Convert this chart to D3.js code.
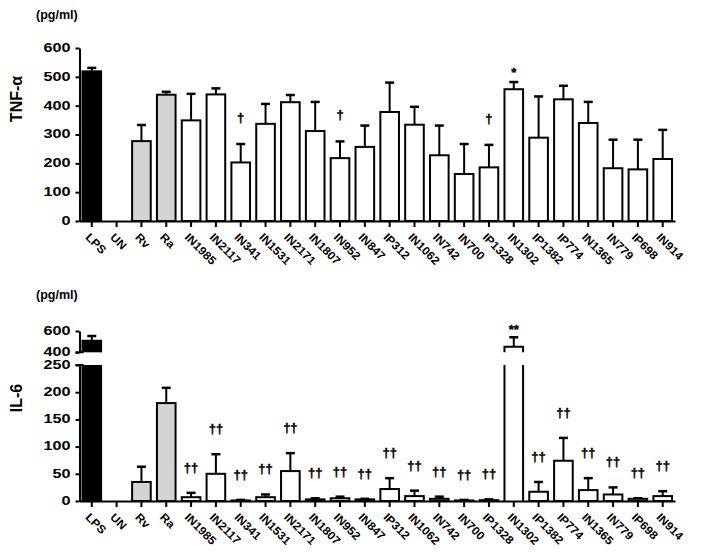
<!DOCTYPE html>
<html>
<head>
<meta charset="utf-8">
<script src="https://cdn.jsdelivr.net/npm/d3@7"></script>
<style>
    body { margin: 0; background: #fff; }
    text { font-family: "Liberation Sans", Arial, sans-serif; fill: #000; }
    .marks { opacity: 0.999; }
</style>
</head>
<body>
<script>
//categories along the x axis
var categories = ["LPS", "UN", "Rv", "Ra", "IN1985", "IN2117", "IN341", "IN1531", "IN2171", "IN1807",
    "IN952", "IN847", "IP312", "IN1062", "IN742", "IN700", "IP1328", "IN1302", "IP1382", "IP774",
    "IN1365", "IN779", "IP698", "IN914"];

//TNF-a means and error (upper SD)
var tnfMean = [519, 0, 277, 438, 349, 439, 203, 337, 412, 312, 218, 257, 378, 334, 228, 163, 186, 457, 289, 422, 340, 183, 179, 215];
var tnfErr = [12, 0, 56, 10, 92, 21, 64, 69, 25, 101, 58, 74, 102, 62, 103, 104, 78, 25, 143, 47, 73, 99, 103, 101];
var tnfMarks = ["", "", "", "", "", "", "\u2020", "", "", "", "\u2020", "", "", "", "", "", "\u2020", "*", "", "", "", "", "", ""];

//IL-6 means and error (upper SD)
var il6Mean = [509, 0, 35, 180, 7, 50, 1, 7, 55, 3, 5, 3, 22, 9, 4, 1, 1.5, 453, 17, 74, 20, 12, 4, 9];
var il6Err = [44, 0, 28, 28, 8, 36, 1, 5, 33, 2, 3, 1, 20, 10, 4, 1, 1.5, 88, 18, 42, 22, 13, 1, 9];
var il6Marks = ["", "", "", "", "\u2020\u2020", "\u2020\u2020", "\u2020\u2020", "\u2020\u2020", "\u2020\u2020", "\u2020\u2020",
    "\u2020\u2020", "\u2020\u2020", "\u2020\u2020", "\u2020\u2020", "\u2020\u2020", "\u2020\u2020", "\u2020\u2020", "**",
    "\u2020\u2020", "\u2020\u2020", "\u2020\u2020", "\u2020\u2020", "\u2020\u2020", "\u2020\u2020"];

//tick labels
var tnfTicks = [0, 100, 200, 300, 400, 500, 600];
var il6LowTicks = [0, 50, 100, 150, 200, 250];
var il6HighTicks = [400, 600];

//fill colour per category
var barFill = function(c){
    if (c == "LPS") return "#000";
    if (c == "Rv" || c == "Ra") return "#d4d4d4";
    return "#fff";
};

var width = 710,
    height = 555,
    axisX = 79.5,
    axisEnd = 675;

var svg = d3.select("body")
    .append("svg")
    .attr("width", width)
    .attr("height", height);

var x = d3.scaleBand()
    .domain(categories)
    .range([axisX, axisEnd])
    .paddingInner(0.25)
    .paddingOuter(0.12);

var bw = x.bandwidth();

//widen glyphs a little, the source font is broader than Arial
function stretch(sel, k){
    sel.each(function(){
        var w = this.getComputedTextLength();
        d3.select(this).attr("textLength", w * k).attr("lengthAdjust", "spacingAndGlyphs");
    });
}

function styleYAxis(g){
    g.select(".domain").attr("stroke-width", 2);
    g.selectAll(".tick line").attr("stroke-width", 2);
    g.selectAll(".tick text")
        .attr("x", -9)
        .attr("dy", "0.28em")
        .style("font-size", "12px")
        .style("font-weight", "bold")
        .attr("fill", "#000");
    stretch(g.selectAll(".tick text"), 1.35);
}

function drawXAxis(y0){
    var g = svg.append("g")
        .attr("transform", "translate(0," + y0 + ")")
        .call(d3.axisBottom(x).tickSize(6).tickSizeOuter(0));
    g.select(".domain").attr("stroke-width", 2);
    g.selectAll(".tick line").attr("stroke-width", 2);
    g.selectAll(".tick text")
        .attr("x", 0).attr("y", 0).attr("dy", 0)
        .attr("text-anchor", "start")
        .attr("transform", "translate(-7,17) rotate(45)")
        .style("font-size", "11.5px")
        .style("font-weight", "bold");
    stretch(g.selectAll(".tick text"), 1.05);
}

function errBar(g, cx, y1, y2){
    g.append("line")
        .attr("x1", cx).attr("x2", cx)
        .attr("y1", y1).attr("y2", y2)
        .attr("stroke", "#000").attr("stroke-width", 2);
    g.append("line")
        .attr("x1", cx - 4.5).attr("x2", cx + 4.5)
        .attr("y1", y2).attr("y2", y2)
        .attr("stroke", "#000").attr("stroke-width", 2.5);
}

//significance marks (daggers / asterisks)
function mark(g, cx, y, s){
    g.append("text")
        .attr("class", "marks")
        .attr("x", cx).attr("y", y)
        .attr("text-anchor", "middle")
        .attr("stroke", "#000").attr("stroke-width", 0.4)
        .style("font-size", "13px")
        .style("font-weight", "bold")
        .text(s);
}

function unitLabels(yTxt, name, yName){
    svg.append("text")
        .attr("x", 36).attr("y", yTxt)
        .style("font-size", "12.5px").style("font-weight", "bold")
        .text("(pg/ml)");
    svg.append("text")
        .attr("transform", "translate(22," + yName + ") rotate(-90)")
        .attr("text-anchor", "middle")
        .style("font-size", "16px").style("font-weight", "bold")
        .text(name);
}

//---------------- TNF-a panel ----------------
var yT = d3.scaleLinear().domain([0, 600]).range([221, 48]);

var tnfBars = svg.append("g");
categories.forEach(function(c, i){
    var v = tnfMean[i];
    if (v <= 0) return;
    var cx = x(c) + bw / 2;
    errBar(tnfBars, cx, yT(v), yT(v + tnfErr[i]));
    tnfBars.append("rect")
        .attr("x", x(c)).attr("y", yT(v))
        .attr("width", bw).attr("height", yT(0) - yT(v))
        .attr("fill", barFill(c))
        .attr("stroke", "#000").attr("stroke-width", 2);
    if (tnfMarks[i]) {
        mark(tnfBars, cx, yT(v + tnfErr[i]) - (tnfMarks[i] == "*" ? 5 : 22), tnfMarks[i]);
    }
});

svg.append("g")
    .attr("transform", "translate(" + axisX + ",0)")
    .call(d3.axisLeft(yT).tickValues(tnfTicks).tickSize(4).tickSizeOuter(0))
    .call(styleYAxis);

drawXAxis(221);
unitLabels(19, "TNF-\u03b1", 99);

//---------------- IL-6 panel (broken axis) ----------------
var yLow = d3.scaleLinear().domain([0, 250]).range([501, 365]);
var yHigh = d3.scaleLinear().domain([400, 600]).range([352.3, 331]);

var yIl = function(v){ return v > 250 ? yHigh(v) : yLow(v); };

var il6Bars = svg.append("g");
categories.forEach(function(c, i){
    var v = il6Mean[i];
    if (v <= 0) return;
    var x0 = x(c), cx = x0 + bw / 2;
    var top = v + il6Err[i];
    errBar(il6Bars, cx, yIl(v), yIl(top));
    if (v > 250) {
        //lower part, open at the top
        il6Bars.append("rect")
            .attr("x", x0).attr("y", yLow(250))
            .attr("width", bw).attr("height", yLow(0) - yLow(250))
            .attr("fill", barFill(c));
        il6Bars.append("path")
            .attr("d", "M" + x0 + "," + yLow(250) + "V" + yLow(0) + "M" + (x0 + bw) + "," + yLow(250) + "V" + yLow(0))
            .attr("fill", "none").attr("stroke", "#000").attr("stroke-width", 2);
        //upper part, open at the bottom
        il6Bars.append("rect")
            .attr("x", x0).attr("y", yHigh(v))
            .attr("width", bw).attr("height", yHigh(400) - yHigh(v))
            .attr("fill", barFill(c));
        il6Bars.append("path")
            .attr("d", "M" + x0 + "," + yHigh(400) + "V" + yHigh(v) + "H" + (x0 + bw) + "V" + yHigh(400))
            .attr("fill", "none").attr("stroke", "#000").attr("stroke-width", 2);
    } else {
        il6Bars.append("rect")
            .attr("x", x0).attr("y", yLow(v))
            .attr("width", bw).attr("height", yLow(0) - yLow(v))
            .attr("fill", barFill(c))
            .attr("stroke", "#000").attr("stroke-width", 2);
    }
    if (il6Marks[i]) {
        mark(il6Bars, cx, yIl(top) - (il6Marks[i] == "**" ? 3 : 21), il6Marks[i]);
    }
});

svg.append("g")
    .attr("transform", "translate(" + axisX + ",0)")
    .call(d3.axisLeft(yLow).tickValues(il6LowTicks).tickSize(4).tickSizeOuter(0))
    .call(styleYAxis);

svg.append("g")
    .attr("transform", "translate(" + axisX + ",0)")
    .call(d3.axisLeft(yHigh).tickValues(il6HighTicks).tickSize(4).tickSizeOuter(0))
    .call(styleYAxis);

//break marks at the ends of the axis pieces
[yHigh(400), yLow(250)].forEach(function(yb){
    svg.append("line")
        .attr("x1", axisX - 4).attr("x2", axisX + 4)
        .attr("y1", yb).attr("y2", yb)
        .attr("stroke", "#000").attr("stroke-width", 2);
});

drawXAxis(501);
unitLabels(299, "IL-6", 398);
</script>
</body>
</html>
